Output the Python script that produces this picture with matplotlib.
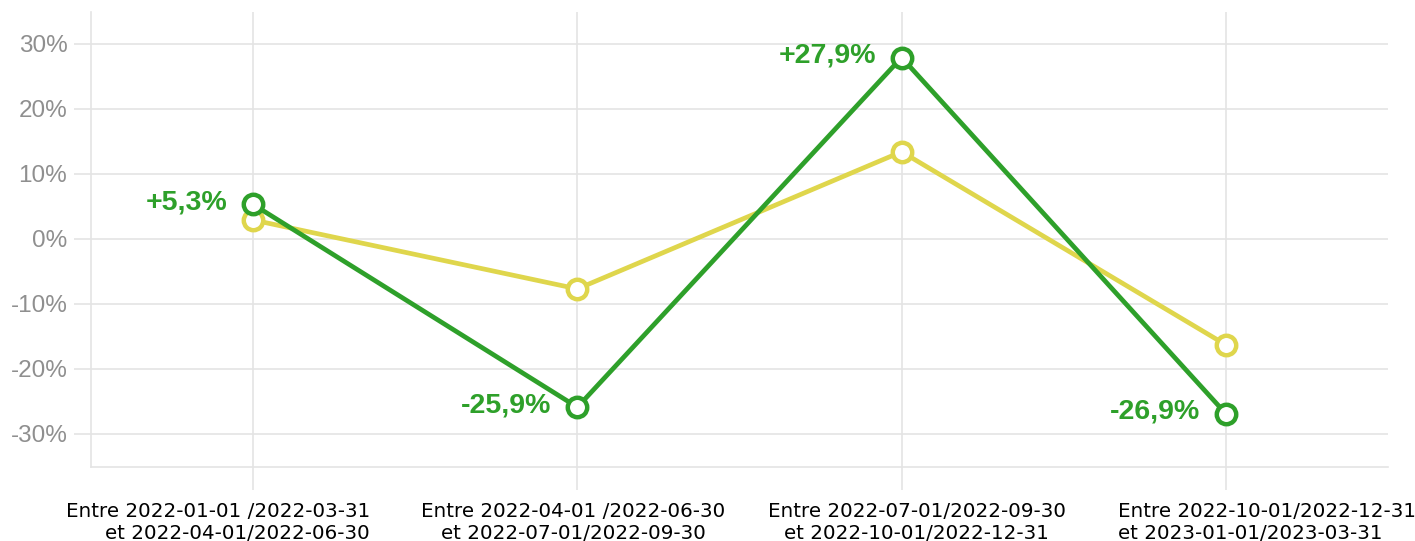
import matplotlib
matplotlib.use("Agg")
import matplotlib.pyplot as plt
from matplotlib.transforms import blended_transform_factory

# quarter-over-quarter variations (%)
periodes = [
    "Entre 2022-01-01 /2022-03-31\net 2022-04-01/2022-06-30",
    "Entre 2022-04-01 /2022-06-30\net 2022-07-01/2022-09-30",
    "Entre 2022-07-01/2022-09-30\net 2022-10-01/2022-12-31",
    "Entre 2022-10-01/2022-12-31\net 2023-01-01/2023-03-31",
]
variation_ref = [2.9, -7.7, 13.4, -16.3]
variation = [5.3, -25.9, 27.9, -26.9]
yticks = [-30, -20, -10, 0, 10, 20, 30]

vert = "#2ea02a"
jaune = "#dfd64c"
grille = "#e4e4e4"

fig = plt.figure(figsize=(14.15, 5.41), dpi=100)
ax = fig.add_axes([0.0643, 0.1368, 0.9166, 0.8410])

x = list(range(len(periodes)))
ax.plot(x, variation_ref, color=jaune, lw=3.4, marker="o", ms=14,
        mfc="white", mec=jaune, mew=3.2, zorder=3)
ax.plot(x, variation, color=vert, lw=3.4, marker="o", ms=14,
        mfc="white", mec=vert, mew=3.2, zorder=4)

for xi, v in zip(x, variation):
    txt = f"{v:+.1f}%".replace(".", ",")
    ax.annotate(txt, (xi, v), xytext=(-18.5, 1.5), textcoords="offset points",
                ha="right", va="center", color=vert, fontsize=20.5,
                fontweight="bold", family="Liberation Sans", zorder=5)

ax.set_xlim(-0.5, 3.5)
ax.set_ylim(-35.1, 34.9)

ax.set_yticks(yticks)
ax.set_yticklabels([f"{t}%" for t in yticks], color="#8f8f8f",
                   fontsize=17.5, family="Liberation Sans")
ax.set_xticks(x)
ax.set_xticklabels([])
ax.grid(True, color=grille, lw=1.2)
ax.set_axisbelow(True)
ax.tick_params(axis="y", length=12, width=1.2, color=grille, pad=5)
ax.tick_params(axis="x", length=16.5, width=1.2, color=grille)

for s in ["top", "right"]:
    ax.spines[s].set_visible(False)
for s in ["left", "bottom"]:
    ax.spines[s].set_color(grille)
    ax.spines[s].set_linewidth(1.2)

# category labels, each with its own alignment
trans = blended_transform_factory(ax.transData, ax.transAxes)
placement = [(0.361, "right"), (-0.012, "center"), (0.046, "center"), (-0.333, "left")]
for xi, lab, (dx, ha) in zip(x, periodes, placement):
    ax.text(xi + dx, -0.076, lab, transform=trans,
            ha=ha, va="top", multialignment=ha, fontsize=14.3,
            family="DejaVu Sans", color="black", linespacing=1.22)

fig.savefig("out.png", dpi=100)
